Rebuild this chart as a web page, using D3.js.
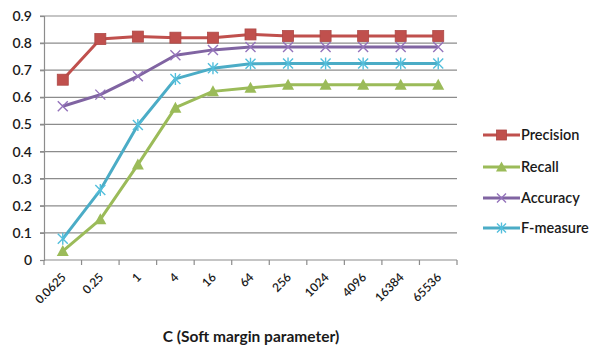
<!DOCTYPE html>
<html>
<head>
<meta charset="utf-8">
<script src="https://cdn.jsdelivr.net/npm/d3@7"></script>
<style>
  html, body { margin: 0; padding: 0; background: #fff; }
  svg { display: block; font-family: Lato, "Open Sans", sans-serif; }
</style>
</head>
<body>
<svg id="chart" width="593" height="347"></svg>
<script>
// SVM soft-margin sweep: evaluation metrics per value of C
const categories = ["0.0625", "0.25", "1", "4", "16", "64", "256", "1024", "4096", "16384", "65536"];
const precision = [0.665, 0.815, 0.824, 0.820, 0.820, 0.832, 0.826, 0.826, 0.826, 0.826, 0.826];
const recall    = [0.033, 0.150, 0.352, 0.562, 0.622, 0.635, 0.646, 0.646, 0.646, 0.646, 0.646];
const accuracy  = [0.567, 0.610, 0.678, 0.755, 0.775, 0.786, 0.786, 0.786, 0.786, 0.786, 0.786];
const fmeasure  = [0.078, 0.258, 0.498, 0.668, 0.707, 0.724, 0.725, 0.725, 0.725, 0.725, 0.725];
const yTicks = [0, 0.1, 0.2, 0.3, 0.4, 0.5, 0.6, 0.7, 0.8, 0.9];
const xTitle = "C (Soft  margin parameter)";

const series = [
  { name: "Precision", values: precision, color: "#C0504D", marker: "square" },
  { name: "Recall",    values: recall,    color: "#9BBB59", marker: "triangle" },
  { name: "Accuracy",  values: accuracy,  color: "#8064A2", marker: "cross" },
  { name: "F-measure", values: fmeasure,  color: "#4BACC6", marker: "star" }
];

const svg = d3.select("#chart");
const plot = { left: 44, right: 457, top: 16, bottom: 260 };

const x = d3.scaleBand().domain(categories).range([plot.left, plot.right]);
const y = d3.scaleLinear().domain([0, 0.9]).range([plot.bottom, plot.top]);
const cx = c => x(c) + x.bandwidth() / 2;

const gridColor = "#8c8c8c";

// horizontal gridlines
svg.append("g")
  .selectAll("line")
  .data(yTicks.filter(d => d > 0))
  .join("line")
  .attr("x1", plot.left - 4).attr("x2", plot.right)
  .attr("y1", d => y(d)).attr("y2", d => y(d))
  .attr("stroke", gridColor).attr("stroke-width", 1.2);

// y axis
const yAxis = svg.append("g")
  .attr("transform", `translate(${plot.left},0)`)
  .call(d3.axisLeft(y).tickValues(yTicks).tickSize(4).tickPadding(8)
    .tickFormat(d => d === 0 ? "0" : d3.format(".1f")(d)));
yAxis.select(".domain").attr("stroke", gridColor).attr("stroke-width", 1.2);
yAxis.selectAll(".tick line").attr("stroke", gridColor).attr("stroke-width", 1.2);
yAxis.selectAll(".tick text")
  .attr("font-size", 14).attr("fill", "#1a1a1a").attr("font-weight", 600)
  .attr("font-family", "Lato, sans-serif");

// x axis with ticks on band edges
const xAxisG = svg.append("g").attr("transform", `translate(0,${plot.bottom})`);
xAxisG.append("line")
  .attr("x1", plot.left).attr("x2", plot.right)
  .attr("stroke", gridColor).attr("stroke-width", 1.2);
const edges = categories.map(c => x(c)).concat([x(categories[categories.length - 1]) + x.bandwidth()]);
xAxisG.selectAll("line.edge")
  .data(edges)
  .join("line")
  .attr("class", "edge")
  .attr("x1", d => d).attr("x2", d => d)
  .attr("y1", 0).attr("y2", 5)
  .attr("stroke", gridColor).attr("stroke-width", 1.2);
xAxisG.selectAll("text")
  .data(categories)
  .join("text")
  .attr("transform", d => `translate(${cx(d) + 1},${15}) rotate(-45)`)
  .attr("text-anchor", "end")
  .attr("dy", "0.35em")
  .attr("font-size", 12).attr("fill", "#1a1a1a").attr("font-weight", 600)
  .text(d => d);

// x axis title
svg.append("text")
  .attr("x", 251).attr("y", 342)
  .attr("text-anchor", "middle")
  .attr("font-size", 15.5).attr("font-weight", 700).attr("fill", "#1a1a1a")
  .text(xTitle);

// marker drawing
function drawMarker(g, type, color, size) {
  const s = size / 2;
  if (type === "square") {
    g.append("rect").attr("x", -s).attr("y", -s).attr("width", size).attr("height", size)
      .attr("fill", color).attr("stroke", d3.color(color).darker(0.3)).attr("stroke-width", 0.8);
  } else if (type === "triangle") {
    g.append("path").attr("d", `M0,${-s - 1}L${s + 1},${s}L${-s - 1},${s}Z`).attr("fill", color);
  } else if (type === "cross") {
    g.append("path").attr("d", `M${-s},${-s}L${s},${s}M${-s},${s}L${s},${-s}`)
      .attr("stroke", d3.color(color).brighter(0.4)).attr("stroke-width", 1.4).attr("fill", "none");
  } else if (type === "star") {
    g.append("path").attr("d", `M${-s},${-s}L${s},${s}M${-s},${s}L${s},${-s}M0,${-s - 1}L0,${s + 1}`)
      .attr("stroke", d3.color(color).brighter(0.3)).attr("stroke-width", 1.4).attr("fill", "none");
  }
}

const line = d3.line().x((d, i) => cx(categories[i])).y(d => y(d));

series.forEach(sr => {
  const g = svg.append("g");
  g.append("path")
    .datum(sr.values)
    .attr("d", line)
    .attr("fill", "none")
    .attr("stroke", sr.color)
    .attr("stroke-width", 3)
    .attr("stroke-linejoin", "round");
  sr.values.forEach((v, i) => {
    const m = g.append("g").attr("transform", `translate(${cx(categories[i])},${y(v)})`);
    drawMarker(m, sr.marker, sr.color, sr.marker === "square" ? 11 : 10);
  });
});

// legend
const legendY = [135, 167, 198, 228];
const legend = svg.append("g");
series.forEach((sr, i) => {
  const g = legend.append("g").attr("transform", `translate(483,${legendY[i]})`);
  g.append("line").attr("x1", 0).attr("x2", 37).attr("y1", 0).attr("y2", 0)
    .attr("stroke", sr.color).attr("stroke-width", 3);
  const m = g.append("g").attr("transform", "translate(18.5,0)");
  drawMarker(m, sr.marker, sr.color, sr.marker === "square" ? 10 : 9);
  g.append("text").attr("x", 38).attr("y", 0).attr("dy", "0.35em")
    .attr("font-size", 14.5).attr("font-weight", 600).attr("fill", "#1a1a1a")
    .text(sr.name);
});
</script>
</body>
</html>
